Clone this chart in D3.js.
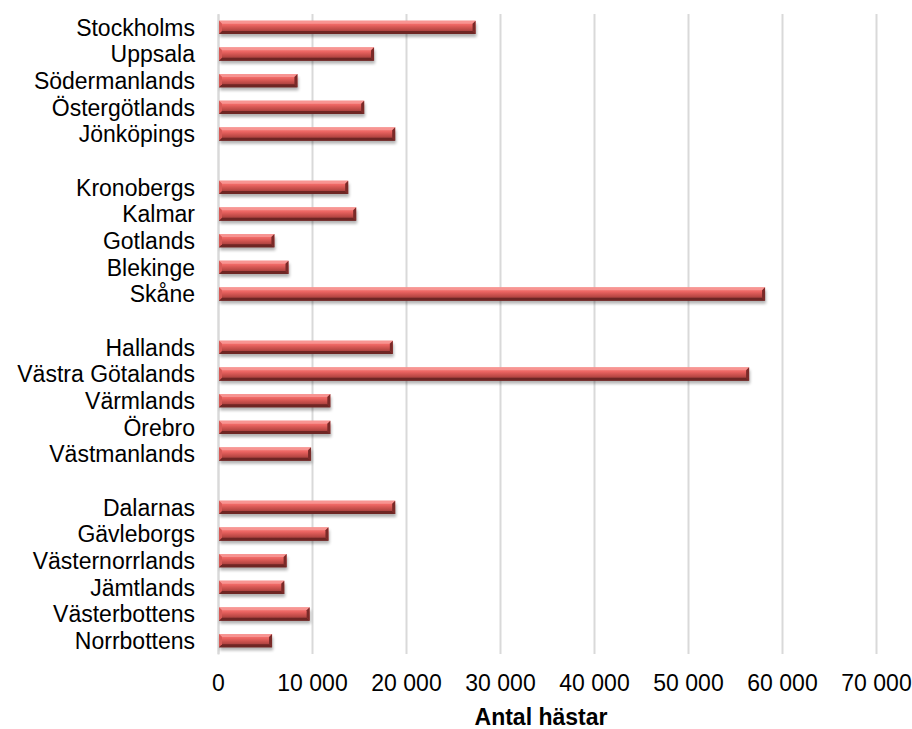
<!DOCTYPE html>
<html>
<head>
<meta charset="utf-8">
<script src="https://cdn.jsdelivr.net/npm/d3@7"></script>
<style>
  body { margin: 0; background: #fff; }
  text { font-family: "Liberation Sans", Arial, sans-serif; fill: #000; }
</style>
</head>
<body>
<div id="chart"></div>
<script>
// län, empty strings are the gaps between regions
var counties = ['Stockholms', 'Uppsala', 'Södermanlands', 'Östergötlands', 'Jönköpings', '',
  'Kronobergs', 'Kalmar', 'Gotlands', 'Blekinge', 'Skåne', '',
  'Hallands', 'Västra Götalands', 'Värmlands', 'Örebro', 'Västmanlands', '',
  'Dalarnas', 'Gävleborgs', 'Västernorrlands', 'Jämtlands', 'Västerbottens', 'Norrbottens'];
var horses = [27400, 16600, 8450, 15550, 18850, null,
  13850, 14700, 6000, 7500, 58200, null,
  18600, 56500, 11950, 11950, 9900, null,
  18850, 11750, 7300, 7050, 9750, 5750];
var xTicks = [0, 10000, 20000, 30000, 40000, 50000, 60000, 70000];
var xTitle = 'Antal hästar';

var svgWidth = 912, svgHeight = 729,
    margin = { top: 14, right: 36, bottom: 75, left: 218 },
    chartWidth = svgWidth - margin.left - margin.right,
    chartHeight = svgHeight - margin.top - margin.bottom;

var x = d3.scaleLinear().domain([0, 70000]).range([0, chartWidth]);
var y = d3.scaleBand().domain(d3.range(counties.length)).range([0, chartHeight]).paddingInner(0.5).paddingOuter(0.25);

var svg = d3.select('#chart').append('svg')
    .attr('width', svgWidth)
    .attr('height', svgHeight);

var defs = svg.append('defs');
var grad = defs.append('linearGradient')
    .attr('id', 'bar-grad')
    .attr('x1', 0).attr('y1', 0).attr('x2', 0).attr('y2', 1);
[[0, '#f47d7a'], [0.3, '#ee6764'], [0.55, '#cd524e'], [0.8, '#a8403d'], [1, '#8a3230']].forEach(function (s) {
    grad.append('stop').attr('offset', s[0]).attr('stop-color', s[1]);
});
var blur = defs.append('filter').attr('id', 'shadow')
    .attr('x', '-10%').attr('y', '-50%').attr('width', '130%').attr('height', '250%');
blur.append('feGaussianBlur').attr('stdDeviation', 1.8);

var g = svg.append('g')
    .attr('transform', 'translate(' + margin.left + ',' + margin.top + ')');

// gridlines
var xAxis = d3.axisBottom(x).tickValues(xTicks).tickSizeInner(-chartHeight).tickSizeOuter(0)
    .tickPadding(29)
    .tickFormat(function (d) { return d3.format(',')(d).replace(/,/g, ' '); });
var ax = g.append('g')
    .attr('transform', 'translate(0,' + chartHeight + ')')
    .call(xAxis);
ax.select('.domain').remove();
ax.selectAll('.tick line').attr('stroke', '#d9d9d9').attr('stroke-width', 2);
ax.selectAll('.tick text').style('font-size', '23px').attr('dy', '0.35em');

// category axis
var yAxis = d3.axisLeft(y).tickSize(0).tickPadding(23)
    .tickFormat(function (i) { return counties[i]; });
var ay = g.append('g').call(yAxis);
ay.select('.domain').attr('stroke', '#d9d9d9').attr('stroke-width', 2);
ay.selectAll('.tick text').style('font-size', '23px').attr('dy', '0.36em');

g.append('text')
    .attr('x', chartWidth / 2 - 6)
    .attr('y', chartHeight + 71)
    .attr('text-anchor', 'middle')
    .style('font-size', '23px')
    .style('font-weight', 'bold')
    .text(xTitle);

var rows = d3.range(counties.length).filter(function (i) { return horses[i] != null; });
var bh = y.bandwidth(), bev = 3;

var bars = g.selectAll('g.bar').data(rows).enter().append('g')
    .attr('class', 'bar')
    .attr('transform', function (i) { return 'translate(1,' + y(i) + ')'; });

bars.append('rect')
    .attr('x', 1).attr('y', 3)
    .attr('width', function (i) { return x(horses[i]) - 1; })
    .attr('height', bh)
    .attr('fill', '#000')
    .attr('opacity', 0.3)
    .attr('filter', 'url(#shadow)');

bars.append('rect')
    .attr('width', function (i) { return x(horses[i]) - 1; })
    .attr('height', bh)
    .attr('fill', 'url(#bar-grad)');

// top light edge
bars.append('path')
    .attr('fill', '#f89a98')
    .attr('opacity', 0.85)
    .attr('d', function (i) {
        var w = x(horses[i]) - 1;
        return 'M0,0L' + w + ',0L' + (w - bev) + ',' + bev + 'L' + bev + ',' + bev + 'Z';
    });
// bottom dark edge
bars.append('path')
    .attr('fill', '#6e2624')
    .attr('d', function (i) {
        var w = x(horses[i]) - 1;
        return 'M0,' + bh + 'L' + w + ',' + bh + 'L' + (w - bev) + ',' + (bh - bev) + 'L0,' + (bh - bev) + 'Z';
    });
// right end bevel
bars.append('path')
    .attr('fill', '#7a2a28')
    .attr('d', function (i) {
        var w = x(horses[i]) - 1;
        return 'M' + w + ',0L' + w + ',' + bh + 'L' + (w - bev) + ',' + (bh - bev) + 'L' + (w - bev) + ',' + bev + 'Z';
    });
// left end
bars.append('path')
    .attr('fill', '#d85a57')
    .attr('d', 'M0,0L' + bev + ',' + bev + 'L' + bev + ',' + (bh - bev) + 'L0,' + bh + 'Z');
</script>
</body>
</html>
